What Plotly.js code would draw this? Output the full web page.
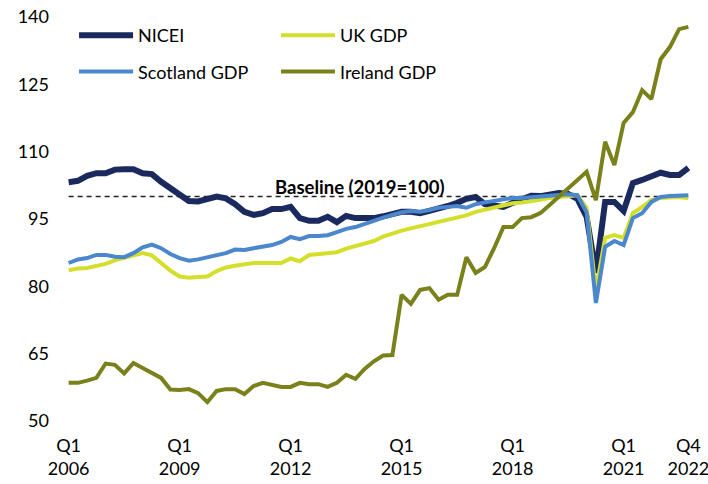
<!DOCTYPE html>
<html>
<head>
<meta charset="utf-8">
<script src="https://cdn.plot.ly/plotly-3.0.1.min.js"></script>
<style>html,body{margin:0;padding:0;background:#fff;}#chart{width:708px;height:484px;}</style>
</head>
<body>
<div id="chart"></div>
<script>
// Quarter categories Q1 2006 .. Q4 2022
const quarters = [
 "2006 Q1","2006 Q2","2006 Q3","2006 Q4","2007 Q1","2007 Q2","2007 Q3","2007 Q4",
 "2008 Q1","2008 Q2","2008 Q3","2008 Q4","2009 Q1","2009 Q2","2009 Q3","2009 Q4",
 "2010 Q1","2010 Q2","2010 Q3","2010 Q4","2011 Q1","2011 Q2","2011 Q3","2011 Q4",
 "2012 Q1","2012 Q2","2012 Q3","2012 Q4","2013 Q1","2013 Q2","2013 Q3","2013 Q4",
 "2014 Q1","2014 Q2","2014 Q3","2014 Q4","2015 Q1","2015 Q2","2015 Q3","2015 Q4",
 "2016 Q1","2016 Q2","2016 Q3","2016 Q4","2017 Q1","2017 Q2","2017 Q3","2017 Q4",
 "2018 Q1","2018 Q2","2018 Q3","2018 Q4","2019 Q1","2019 Q2","2019 Q3","2019 Q4",
 "2020 Q1","2020 Q2","2020 Q3","2020 Q4","2021 Q1","2021 Q2","2021 Q3","2021 Q4",
 "2022 Q1","2022 Q2","2022 Q3","2022 Q4"
];

const nicei = [
 103.2,103.5,104.6,105.2,105.2,106.0,106.1,106.1,
 105.2,105.0,103.3,101.9,100.5,99.0,98.9,99.4,
 100.0,99.6,98.3,96.6,95.9,96.3,97.2,97.2,
 97.7,95.2,94.6,94.6,95.5,94.3,95.7,95.2,
 95.2,95.2,95.6,96.2,96.6,96.6,96.3,96.8,
 97.2,97.9,98.6,99.5,99.9,98.3,98.0,97.7,
 98.6,99.4,100.2,100.1,100.6,100.8,100.6,99.5,
 95.5,83.0,98.8,98.8,96.8,103.0,103.7,104.6,
 105.3,104.8,104.8,106.4
];

const ukGdp = [
 83.6,84.0,84.1,84.6,85.0,85.8,86.4,86.9,
 87.4,86.9,85.2,83.5,82.2,81.9,82.1,82.2,
 83.4,84.2,84.6,84.9,85.2,85.2,85.2,85.2,
 86.2,85.6,87.0,87.2,87.2,87.6,88.4,89.0,
 89.4,90.1,91.1,91.8,92.4,92.9,93.4,93.9,
 94.3,94.9,95.3,95.8,96.6,97.1,97.6,98.0,
 98.5,98.7,98.9,99.3,99.7,99.9,100.1,100.3,
 97.5,79.0,90.8,91.4,90.8,96.3,97.7,99.2,
 99.7,99.9,99.9,99.6
];

const scotlandGdp = [
 85.2,86.0,86.3,87.0,87.0,86.6,86.5,87.4,
 88.7,89.3,88.5,87.2,86.3,85.7,86.0,86.5,
 87.0,87.4,88.2,88.1,88.5,88.8,89.2,89.9,
 91.0,90.5,91.2,91.2,91.4,92.1,92.8,93.2,
 93.8,94.6,95.3,95.9,96.5,96.8,96.6,97.0,
 97.5,97.7,97.9,97.5,98.3,98.7,99.1,99.5,
 99.7,99.7,99.9,99.9,100.1,100.3,100.5,100.3,
 96.5,76.3,88.8,90.1,89.2,95.2,96.3,98.8,
 99.9,100.1,100.3,100.3
];

const irelandGdp = [
 58.5,58.5,59.0,59.6,62.8,62.5,60.6,62.9,
 61.8,60.8,59.6,57.0,56.9,57.1,56.2,54.2,
 56.7,57.1,57.1,56.0,57.8,58.5,58.0,57.6,
 57.6,58.5,58.2,58.2,57.6,58.5,60.3,59.4,
 61.6,63.3,64.6,64.7,78.1,76.1,79.2,79.6,
 77.0,78.1,78.1,86.5,83.0,84.3,88.5,93.2,
 93.2,95.2,95.4,96.3,98.1,99.9,101.9,103.5,
 105.5,99.2,112.2,107.0,116.4,118.8,123.7,121.7,
 130.6,133.3,137.3,137.8
];

const tickQuarters = ["2006 Q1","2009 Q1","2012 Q1","2015 Q1","2018 Q1","2021 Q1","2022 Q4"];
const tickLabels = ["Q1<br>2006","Q1<br>2009","Q1<br>2012","Q1<br>2015","Q1<br>2018","Q1<br>2021","Q4<br>2022"];
const yTicks = [50,65,80,95,110,125,140];
const baseline = 100;
const baselineLabel = "Baseline (2019=100)";

const FONT = "Lato, 'Open Sans', sans-serif";

const traces = [
  {x: quarters, y: nicei, name: "NICEI", type: "scatter", mode: "lines",
   line: {color: "#1b2a5e", width: 6}, legend: "legend", legendgroup: "a"},
  {x: quarters, y: ukGdp, name: "UK GDP", type: "scatter", mode: "lines",
   line: {color: "#d4df2b", width: 4}, legend: "legend2", legendgroup: "b"},
  {x: quarters, y: scotlandGdp, name: "Scotland GDP", type: "scatter", mode: "lines",
   line: {color: "#4a87cc", width: 4}, legend: "legend", legendgroup: "c"},
  {x: quarters, y: irelandGdp, name: "Ireland GDP", type: "scatter", mode: "lines",
   line: {color: "#7a811b", width: 4}, legend: "legend2", legendgroup: "d"}
];

const legendCommon = {
  xref: "paper", yref: "paper", xanchor: "left", yanchor: "top",
  bgcolor: "rgba(0,0,0,0)", font: {family: FONT, size: 18, color: "#000"},
  tracegroupgap: 10, traceorder: "grouped", orientation: "v", itemwidth: 54
};

const layout = {
  width: 708, height: 484,
  margin: {l: 64, r: 15, t: 17, b: 63},
  paper_bgcolor: "#fff", plot_bgcolor: "#fff",
  font: {family: FONT, size: 18, color: "#000"},
  showlegend: true,
  legend: Object.assign({}, legendCommon, {x: 0.016, y: 1.0}),
  legend2: Object.assign({}, legendCommon, {x: 0.337, y: 1.0}),
  xaxis: {
    type: "category", categoryorder: "array", categoryarray: quarters,
    range: [-0.5, quarters.length - 0.5],
    tickmode: "array", tickvals: tickQuarters, ticktext: tickLabels,
    showgrid: false, zeroline: false, showline: false, ticks: "",
    tickangle: 0, ticklabelstandoff: 12,
    tickfont: {family: FONT, size: 18, color: "#000"}
  },
  yaxis: {
    range: [50, 140], tickmode: "array", tickvals: yTicks,
    showgrid: false, zeroline: false, showline: false, ticks: "",
    ticklabelstandoff: 14,
    tickfont: {family: FONT, size: 18, color: "#000"}
  },
  shapes: [{
    type: "line", xref: "x", yref: "y", layer: "below",
    x0: 0, x1: quarters.length - 1, y0: baseline, y1: baseline,
    line: {color: "#222", width: 1.5, dash: "5px,4px"}
  }],
  annotations: [{
    xref: "x", yref: "y", x: 31.5, y: baseline, yanchor: "bottom", xanchor: "center",
    showarrow: false, yshift: -3,
    text: "<b>" + baselineLabel + "</b>",
    font: {family: FONT, size: 18.5, color: "#000"}
  }]
};

Plotly.newPlot("chart", traces, layout, {displayModeBar: false, staticPlot: true});
</script>
</body>
</html>
